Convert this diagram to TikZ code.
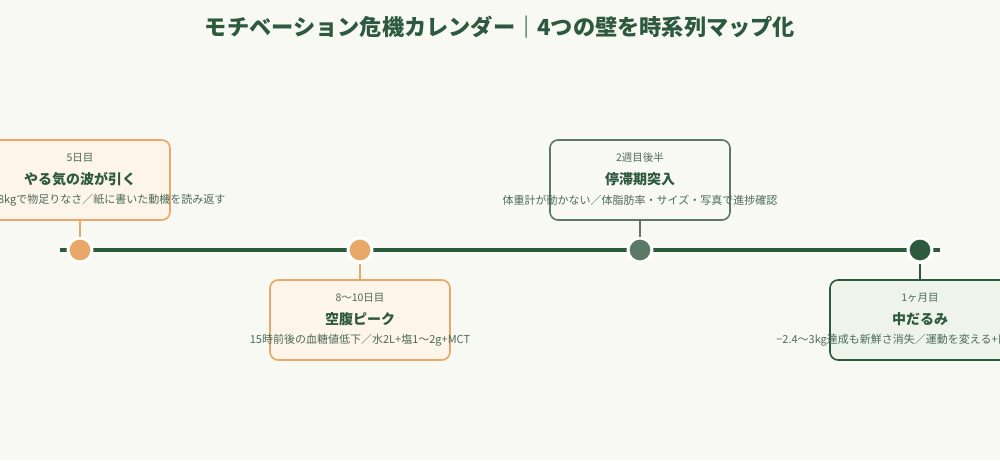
\documentclass[tikz,border=0pt]{standalone}
\usepackage{fontspec}
\setmainfont{Noto Sans CJK JP}
\definecolor{bgcol}{HTML}{F9F9F4}
\definecolor{darkgreen}{HTML}{2D5A3D}
\definecolor{midgreen}{HTML}{5A7A65}
\definecolor{textgray}{HTML}{4D6B58}
\definecolor{orangeline}{HTML}{E8A86A}
\definecolor{orangefill}{HTML}{FDF4EA}
\definecolor{greenfill}{HTML}{EEF4EA}

\tikzset{
  eventbox/.style={draw=#1, line width=1.6pt, rounded corners=8pt,
    minimum width=180pt, minimum height=80pt, inner sep=0pt},
  when/.style={text=textgray, font=\fontsize{10.5}{12}\selectfont},
  headline/.style={text=darkgreen, font=\fontsize{14}{16}\selectfont\bfseries},
  detail/.style={text=textgray, font=\fontsize{11}{13}\selectfont},
  dot/.style={circle, fill=#1, draw=white, line width=3pt,
    minimum size=24pt, inner sep=0pt},
  stem/.style={draw=#1, line width=1.6pt}
}

\begin{document}
\begin{tikzpicture}[x=1pt, y=-1pt]
    % page and background
    \useasboundingbox[fill=bgcol] (0,0) rectangle (1000,460);

    % title
    \node[text=darkgreen, font=\fontsize{22.2}{25}\selectfont\bfseries] (title) at (500,27)
      {モチベーション危機カレンダー｜4つの壁を時系列マップ化};

    % timeline axis
    \coordinate (axisL) at (60,250);
    \coordinate (axisR) at (940,250);
    \draw[darkgreen, line width=4pt] (axisL) -- (axisR);

    % event boxes
    \node[eventbox=orangeline, fill=orangefill] (box1) at (80,180) {};
    \node[eventbox=orangeline, fill=orangefill] (box2) at (360,320) {};
    \node[eventbox=midgreen, fill=bgcol] (box3) at (640,180) {};
    \node[eventbox=darkgreen, fill=greenfill] (box4) at (920,320) {};

    % box texts
    \node[when] (w1) at (80,158) {5日目};
    \node[headline] (h1) at (80,179) {やる気の波が引く};
    \node[detail] (t1) at (80,200) {体重−1.5〜1.8kgで物足りなさ／紙に書いた動機を読み返す};

    \node[when] (w2) at (360,298) {8〜10日目};
    \node[headline] (h2) at (360,319) {空腹ピーク};
    \node[detail] (t2) at (360,340) {15時前後の血糖値低下／水2L+塩1〜2g+MCT};

    \node[when] (w3) at (640,158) {2週目後半};
    \node[headline] (h3) at (640,179) {停滞期突入};
    \node[detail] (t3) at (640,200) {体重計が動かない／体脂肪率・サイズ・写真で進捗確認};

    \node[when] (w4) at (920,298) {1ヶ月目};
    \node[headline] (h4) at (920,319) {中だるみ};
    \node[detail] (t4) at (920,340) {−2.4〜3kg達成も新鮮さ消失／運動を変える+目標の再設定};

    % timeline dots
    \node[dot=orangeline] (d1) at (80,250) {};
    \node[dot=orangeline] (d2) at (360,250) {};
    \node[dot=midgreen] (d3) at (640,250) {};
    \node[dot=darkgreen] (d4) at (920,250) {};

    % stems from boxes to dots
    \draw[stem=orangeline] (box1.south) -- (d1.north);
    \draw[stem=orangeline] (box2.north) -- (d2.south);
    \draw[stem=midgreen] (box3.south) -- (d3.north);
    \draw[stem=darkgreen] (box4.north) -- (d4.south);
\end{tikzpicture}
\end{document}
